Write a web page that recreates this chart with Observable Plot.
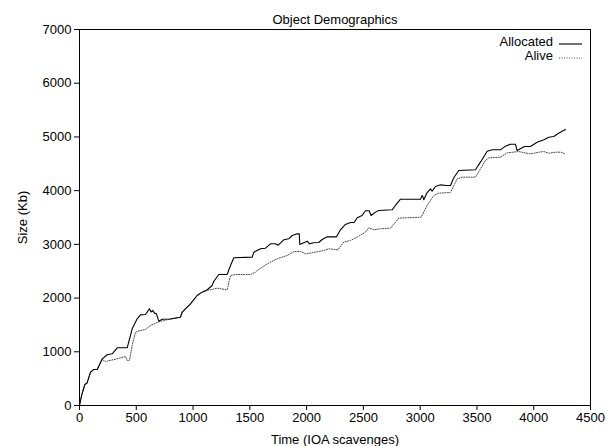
<!DOCTYPE html>
<html>
<head>
<meta charset="utf-8">
<script src="https://cdn.jsdelivr.net/npm/d3@7"></script>
<script src="https://cdn.jsdelivr.net/npm/@observablehq/plot@0.6"></script>
<style>
  html, body { margin: 0; padding: 0; background: #fff; }
  svg { display: block; }
</style>
</head>
<body>
<div id="chart"></div>
<script>
const chartTitle = "Object Demographics";
const xLabel = "Time (IOA scavenges)";
const yLabel = "Size (Kb)";
const seriesNames = ["Allocated", "Alive"];
const xTicks = [0, 500, 1000, 1500, 2000, 2500, 3000, 3500, 4000, 4500];
const yTicks = [0, 1000, 2000, 3000, 4000, 5000, 6000, 7000];

const allocTime = [0, 20, 47, 67, 97, 126, 156, 200, 244, 288, 332, 420, 464, 508, 537, 581, 616, 630, 645, 660, 678, 698, 728, 800, 889, 904, 977, 1036, 1080, 1118, 1168, 1183, 1227, 1300, 1330, 1359, 1521, 1535, 1594, 1638, 1682, 1726, 1750, 1799, 1843, 1873, 1917, 1935, 1940, 2005, 2026, 2060, 2107, 2137, 2181, 2263, 2298, 2342, 2386, 2420, 2445, 2489, 2518, 2550, 2568, 2606, 2636, 2753, 2782, 2827, 3003, 3017, 3025, 3032, 3060, 3091, 3105, 3135, 3179, 3230, 3267, 3296, 3340, 3487, 3531, 3590, 3634, 3707, 3751, 3795, 3839, 3854, 3898, 3918, 3971, 4030, 4089, 4133, 4177, 4212, 4250, 4280];
const allocSize = [0, 200, 390, 420, 620, 670, 670, 869, 944, 962, 1074, 1074, 1428, 1614, 1688, 1694, 1800, 1740, 1770, 1720, 1707, 1570, 1607, 1610, 1644, 1737, 1893, 2048, 2110, 2141, 2234, 2314, 2439, 2439, 2607, 2750, 2762, 2855, 2917, 2929, 3010, 3010, 2985, 3085, 3103, 3165, 3196, 3196, 2998, 3059, 3010, 3030, 3035, 3091, 3140, 3140, 3271, 3370, 3407, 3410, 3495, 3537, 3625, 3625, 3537, 3600, 3631, 3643, 3724, 3841, 3841, 3910, 3880, 3830, 3960, 4034, 3990, 4077, 4108, 4096, 4096, 4239, 4375, 4388, 4530, 4735, 4760, 4760, 4828, 4865, 4865, 4747, 4797, 4822, 4822, 4902, 4946, 4995, 5008, 5058, 5107, 5139];

const aliveTime = [0, 20, 47, 67, 97, 126, 156, 200, 229, 332, 405, 420, 440, 464, 493, 537, 581, 625, 690, 743, 800, 889, 904, 977, 1036, 1080, 1100, 1154, 1212, 1300, 1330, 1374, 1506, 1550, 1565, 1653, 1741, 1829, 1888, 1946, 1990, 2040, 2107, 2151, 2195, 2275, 2327, 2386, 2445, 2518, 2547, 2592, 2650, 2739, 2812, 3008, 3061, 3120, 3164, 3267, 3326, 3370, 3487, 3531, 3575, 3604, 3707, 3766, 3868, 3930, 3971, 4045, 4089, 4133, 4192, 4240, 4280];
const aliveSize = [0, 200, 390, 420, 620, 670, 670, 856, 819, 869, 912, 838, 840, 1117, 1365, 1396, 1415, 1490, 1551, 1583, 1610, 1644, 1737, 1893, 2048, 2110, 2140, 2154, 2184, 2154, 2420, 2439, 2439, 2482, 2513, 2637, 2731, 2793, 2867, 2867, 2824, 2840, 2867, 2886, 2917, 2898, 3041, 3072, 3134, 3227, 3308, 3271, 3290, 3302, 3488, 3506, 3724, 3910, 3953, 3966, 4220, 4251, 4251, 4406, 4561, 4611, 4623, 4704, 4728, 4700, 4685, 4716, 4728, 4697, 4716, 4716, 4685];

const allocated = allocTime.map((t, i) => ({time: t, size: allocSize[i]}));
const alive = aliveTime.map((t, i) => ({time: t, size: aliveSize[i]}));

const font = "'Liberation Sans', Arial, Helvetica, sans-serif";

const plot = Plot.plot({
  width: 611,
  height: 446,
  marginLeft: 79,
  marginRight: 21,
  marginTop: 29,
  marginBottom: 41,
  style: {fontFamily: font, fontSize: "13px", color: "#000", background: "#fff", overflow: "visible"},
  x: {domain: [0, 4500], ticks: xTicks, tickSize: 5, tickPadding: 2, label: xLabel, labelArrow: "none", labelAnchor: "center", labelOffset: 38, tickFormat: d => String(d)},
  y: {domain: [0, 7000], ticks: yTicks, tickSize: 5, tickPadding: 3, label: yLabel, labelArrow: "none", labelAnchor: "center", labelOffset: 62, tickFormat: d => String(d)},
  marks: [
    Plot.frame({stroke: "#000", strokeWidth: 1}),
    Plot.line(alive, {x: "time", y: "size", stroke: "#444", strokeWidth: 1, strokeDasharray: "1,1.5"}),
    Plot.line(allocated, {x: "time", y: "size", stroke: "#000", strokeWidth: 1.1}),
    Plot.text([chartTitle], {frameAnchor: "top", dy: -6, lineAnchor: "bottom", fontSize: 13, fill: "#000"})
  ]
});

const svg = d3.select(plot);
svg.selectAll("[aria-label='x-axis tick'] path, [aria-label='y-axis tick'] path").attr("stroke", "#000");
svg.selectAll("[aria-label='x-axis label'], [aria-label='y-axis label'], [aria-label='x-axis tick label'], [aria-label='y-axis tick label']").attr("fill", "#000");

// legend inside top-right of the frame
const legendRight = 611 - 21 - 8;
const legend = svg.append("g").attr("font-family", font).attr("font-size", 13);
const legendStyles = [
  {stroke: "#000", dash: null, width: 1.1},
  {stroke: "#444", dash: "1,1.5", width: 1}
];
seriesNames.forEach((name, i) => {
  const yy = 43 + i * 14;
  legend.append("text")
    .attr("x", legendRight - 29)
    .attr("y", yy)
    .attr("text-anchor", "end")
    .attr("dominant-baseline", "middle")
    .attr("fill", "#000")
    .text(name);
  legend.append("line")
    .attr("x1", legendRight - 23)
    .attr("x2", legendRight)
    .attr("y1", yy + 1)
    .attr("y2", yy + 1)
    .attr("stroke", legendStyles[i].stroke)
    .attr("stroke-width", legendStyles[i].width)
    .attr("stroke-dasharray", legendStyles[i].dash);
});

document.getElementById("chart").appendChild(plot);
</script>
</body>
</html>
